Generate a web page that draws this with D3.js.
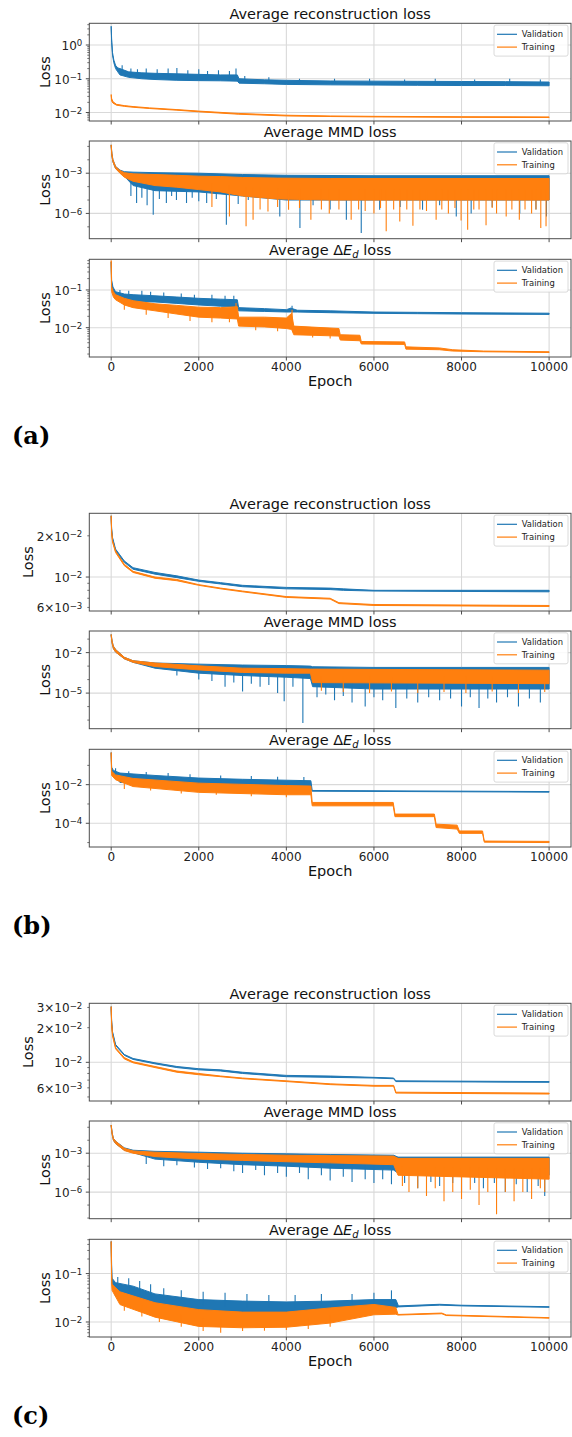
<!DOCTYPE html>
<html><head><meta charset="utf-8">
<script src="https://cdn.jsdelivr.net/npm/d3@7"></script>
<style>body{margin:0;background:#fff}svg{display:block}text{font-family:"DejaVu Sans",sans-serif;fill:#111}</style>
</head><body><svg id="c" width="572" height="1437"></svg>
<script>
// ---------------- data ----------------
const xTicks = [0, 2000, 4000, 6000, 8000, 10000];
const seriesNames = ["Validation", "Training"];
const groupLabels = ["(a)", "(b)", "(c)"];
const panelTitles = ["Average reconstruction loss", "Average MMD loss", "Average \u0394E_d loss"];

// each band: [epoch, lower, upper]; each spike list: [epoch, value]
const aRecVal = [[0,3.2,3.6],[10,1.2,1.5],[30,0.5,0.6],[60,0.3,0.36],[100,0.2,0.25],[150,0.16,0.21],[200,0.13,0.2],[400,0.11,0.16],[700,0.1,0.15],[1000,0.095,0.145],[1500,0.09,0.14],[2000,0.088,0.135],[2500,0.087,0.13],[2880,0.085,0.13],[2920,0.074,0.1],[3500,0.071,0.093],[4000,0.068,0.09],[5000,0.066,0.086],[6000,0.065,0.085],[7000,0.064,0.084],[8000,0.063,0.083],[9000,0.063,0.082],[10000,0.062,0.08]];
const aRecTrn = [[0,0.03,0.034],[10,0.022,0.026],[40,0.019,0.021],[120,0.0165,0.0175],[300,0.0152,0.016],[500,0.0143,0.015],[880,0.0131,0.0137],[1500,0.0117,0.0122],[2000,0.0105,0.011],[2900,0.0089,0.0094],[4000,0.0079,0.0083],[5000,0.0076,0.0079],[6000,0.0074,0.0077],[8000,0.0072,0.0075],[10000,0.0071,0.0074]];
const aRecValSpk = [[250,0.25],[450,0.2],[600,0.19],[800,0.2],[1050,0.19],[1300,0.2],[1500,0.21],[1750,0.18],[2000,0.19],[2200,0.17],[2450,0.18],[2700,0.17],[2850,0.2],[3050,0.12],[3600,0.11],[4300,0.1],[5100,0.1],[5900,0.1],[6700,0.095],[7400,0.1],[8300,0.095],[9100,0.1],[9800,0.095]];

const aMmdVal = [[0,0.1,0.13],[15,0.02,0.03],[40,0.007,0.01],[100,0.0022,0.0032],[200,0.0011,0.0017],[300,0.0006,0.0013],[500,0.00012,0.0012],[1000,0.00005,0.0011],[2000,0.00004,0.001],[3000,0.00002,0.0008],[4000,0.00001,0.0007],[6000,0.00001,0.00065],[8000,0.00001,0.00065],[10000,0.00001,0.00065]];
const aMmdTrn = [[0,0.1,0.13],[15,0.02,0.03],[40,0.007,0.01],[100,0.0022,0.0032],[200,0.001,0.0016],[300,0.0005,0.0011],[500,0.00025,0.0009],[1000,0.00012,0.0008],[1500,0.00009,0.0007],[2000,0.00006,0.0006],[2500,0.00004,0.00056],[3000,0.00002,0.00048],[3800,0.000012,0.00043],[5000,0.00001,0.0004],[10000,0.00001,0.0004]];
const aMmdValSpk = [[450,2e-5],[580,6e-6],[700,1.5e-5],[820,4e-6],[960,8e-7],[1100,1.2e-5],[1260,6e-6],[1380,2e-5],[1490,1e-5],[1720,6e-6],[1850,1.5e-5],[2000,8e-6],[2180,6e-6],[2400,1.2e-5],[2630,1.4e-7],[2900,5e-6],[3130,1e-5],[3470,2.5e-5],[3850,6e-7],[4310,8e-8],[4610,4e-6],[5000,2e-6],[5370,3.4e-7],[5710,3.5e-8],[6130,1.9e-6],[6600,3e-6],[7110,1.9e-6],[7500,4e-6],[7880,6e-7],[8220,1e-6],[8700,3e-6],[9330,1e-6],[9700,2e-6],[9940,6e-7]];
const aMmdTrnSpk = [[2300,3e-6],[2700,6e-7],[3080,1.1e-7],[3240,3.4e-7],[3400,2e-6],[3580,1.4e-6],[3800,3e-6],[4050,1.9e-6],[4300,2.5e-6],[4560,3.4e-7],[4800,2e-6],[4980,1e-6],[5200,2e-6],[5480,3.4e-7],[5650,2e-6],[5800,1.5e-6],[6000,1e-6],[6150,2.5e-6],[6280,4.6e-8],[6450,2e-6],[6590,2.5e-7],[6750,2e-6],[6890,1.2e-7],[7050,2e-6],[7200,1.5e-6],[7420,3.4e-7],[7550,2e-6],[7700,1e-6],[7850,2.5e-6],[7990,3e-7],[8140,6e-8],[8280,2e-6],[8400,2e-6],[8560,1.3e-7],[8700,2.5e-6],[8800,1e-6],[9020,6e-7],[9150,2e-6],[9320,3.4e-7],[9450,2e-6],[9600,1e-6],[9700,2e-6],[9810,8e-8],[9930,1.1e-7]];

const aDeVal = [[0,0.5,0.55],[10,0.13,0.18],[40,0.085,0.12],[100,0.065,0.09],[300,0.05,0.078],[500,0.049,0.075],[1000,0.048,0.07],[1500,0.044,0.065],[2000,0.04,0.06],[2500,0.037,0.057],[2880,0.036,0.055],[2910,0.028,0.034],[3500,0.027,0.032],[4000,0.026,0.03],[4100,0.026,0.033],[4250,0.026,0.029],[5000,0.025,0.028],[6000,0.024,0.026],[7000,0.0235,0.0255],[8000,0.023,0.025],[10000,0.0225,0.0242]];
const aDeTrn = [[0,0.5,0.6],[10,0.09,0.12],[50,0.065,0.09],[100,0.055,0.075],[300,0.04,0.06],[500,0.034,0.052],[1000,0.028,0.043],[1500,0.023,0.039],[2000,0.019,0.035],[2500,0.018,0.034],[2880,0.017,0.036],[2910,0.011,0.019],[3500,0.0105,0.019],[4000,0.0095,0.018],[4120,0.009,0.024],[4170,0.0065,0.011],[5200,0.006,0.0095],[5230,0.0047,0.0065],[5680,0.0045,0.0063],[5710,0.0037,0.0043],[6700,0.0036,0.0042],[6730,0.0027,0.0031],[7500,0.0026,0.0029],[7800,0.0024,0.0026],[8500,0.0023,0.0024],[10000,0.0022,0.0023]];
const aDeValSpk = [[200,0.1],[400,0.095],[700,0.095],[900,0.09],[1200,0.085],[1600,0.08],[1900,0.075],[2300,0.075],[2600,0.07],[2800,0.07],[4130,0.038]];
const aDeTrnSpk = [[300,0.03],[800,0.022],[1300,0.018],[1800,0.015],[2300,0.014],[2700,0.014],[2850,0.045],[3300,0.0085],[3800,0.008],[4130,0.03],[4600,0.0055],[5000,0.0052]];

const bRecVal = [[0,0.027,0.028],[10,0.022,0.0225],[30,0.019,0.0195],[100,0.0155,0.016],[300,0.0128,0.0131],[500,0.0114,0.0117],[1000,0.0105,0.0108],[1500,0.0099,0.0102],[2000,0.0093,0.0095],[2500,0.0089,0.0091],[3000,0.0085,0.0087],[4000,0.0082,0.0084],[5000,0.0081,0.0083],[5300,0.008,0.0082],[6000,0.0079,0.008],[10000,0.0078,0.008]];
const bRecTrn = [[0,0.027,0.028],[10,0.021,0.0215],[30,0.018,0.0185],[100,0.0151,0.0155],[300,0.0121,0.0124],[500,0.0108,0.011],[1000,0.0098,0.01],[1500,0.0094,0.0096],[2000,0.0087,0.0088],[2500,0.0082,0.0083],[3000,0.0078,0.0079],[4000,0.0071,0.0072],[5000,0.0069,0.007],[5200,0.0064,0.0065],[6000,0.0062,0.0063],[10000,0.0061,0.0062]];

const bMmdVal = [[0,0.18,0.22],[20,0.05,0.07],[50,0.02,0.03],[100,0.011,0.017],[300,0.0035,0.0045],[500,0.0019,0.0025],[1000,0.0007,0.0017],[2000,0.0003,0.0014],[3000,0.0002,0.0012],[4000,0.00015,0.0011],[4550,0.00012,0.001],[4600,0.00003,0.0009],[6000,0.00002,0.0008],[8000,0.00002,0.0008],[10000,0.00002,0.0008]];
const bMmdTrn = [[0,0.18,0.22],[20,0.05,0.07],[50,0.02,0.03],[100,0.011,0.017],[300,0.0035,0.0045],[500,0.0019,0.0025],[1000,0.00093,0.0017],[2000,0.00052,0.00105],[3000,0.00034,0.0007],[4000,0.0003,0.00065],[4550,0.0003,0.0006],[4600,0.00006,0.0006],[10000,0.00005,0.0005]];
const bMmdValSpk = [[1500,2e-4],[2000,1e-4],[2300,8e-5],[2600,3e-5],[2800,6e-5],[3000,1.3e-5],[3200,5e-5],[3400,3e-5],[3600,4e-5],[3800,1e-5],[3950,2.5e-6],[4150,3e-5],[4377,6e-8],[4700,5e-6],[4900,8e-6],[5100,3e-6],[5300,6e-6],[5500,2e-6],[5800,1e-6],[6000,5e-6],[6200,3e-6],[6500,8e-7],[6750,4e-6],[7000,2e-6],[7250,5e-6],[7500,3e-6],[7750,4e-6],[8000,1e-6],[8200,5e-6],[8400,8e-7],[8600,4e-6],[8800,2e-6],[9050,5e-6],[9300,1e-6],[9550,4e-6],[9800,2e-6]];
const bMmdTrnSpk = [[4800,1.5e-5],[5300,1.2e-5],[5900,1e-5],[6400,1.3e-5],[7000,1e-5],[7600,1.2e-5],[8100,1e-5],[8700,1.3e-5],[9300,1e-5],[9900,1.2e-5]];

const bDeVal = [[0,0.43,0.46],[10,0.06,0.08],[50,0.035,0.055],[200,0.013,0.04],[1000,0.011,0.03],[2000,0.009,0.022],[3000,0.008,0.019],[4000,0.007,0.017],[4560,0.007,0.016],[4590,0.0046,0.005],[10000,0.0041,0.0044]];
const bDeTrn = [[0,0.43,0.46],[10,0.03,0.05],[100,0.018,0.032],[500,0.008,0.021],[2000,0.004,0.012],[4000,0.003,0.009],[4560,0.003,0.0085],[4590,0.0008,0.0012],[6440,0.0008,0.0012],[6480,0.00022,0.0003],[7380,0.00022,0.0003],[7420,0.00006,0.00009],[7900,0.00005,0.00008],[7950,0.00003,0.00004],[8480,0.00003,0.00004],[8520,0.0000105,0.000012],[10000,0.00001,0.0000115]];
const bDeValSpk = [[100,0.07],[400,0.05],[800,0.045],[1300,0.04],[1800,0.035],[2500,0.03],[3200,0.028],[3800,0.026],[4400,0.025]];
const bDeTrnSpk = [[300,0.006],[900,0.005],[1600,0.0035],[2400,0.003],[3200,0.0025],[4000,0.0022]];

const cRecVal = [[0,0.029,0.0305],[10,0.022,0.023],[30,0.018,0.0185],[100,0.014,0.0143],[300,0.0115,0.0117],[500,0.0106,0.0108],[1000,0.0097,0.0099],[1500,0.009,0.0092],[2000,0.0086,0.0088],[2500,0.0084,0.0086],[3000,0.008,0.0082],[4000,0.0075,0.0077],[5000,0.0074,0.0076],[6000,0.0073,0.0074],[6450,0.0072,0.0073],[6500,0.0068,0.0069],[10000,0.0067,0.0068]];
const cRecTrn = [[0,0.029,0.0305],[10,0.021,0.022],[30,0.017,0.0175],[100,0.0131,0.0134],[300,0.0107,0.011],[500,0.0099,0.0101],[1000,0.009,0.0092],[1500,0.0082,0.0084],[2000,0.0078,0.008],[2500,0.0075,0.0076],[3000,0.0072,0.0073],[4000,0.0068,0.0069],[5000,0.0064,0.0065],[6000,0.0062,0.0063],[6450,0.0062,0.0063],[6500,0.0054,0.0055],[10000,0.0053,0.0054]];

const cMmdVal = [[0,0.12,0.15],[20,0.03,0.04],[50,0.01,0.014],[100,0.0055,0.0085],[300,0.0017,0.0026],[500,0.0011,0.0017],[1000,0.00035,0.0014],[2000,0.0002,0.0012],[3000,0.00013,0.001],[4000,0.0001,0.0009],[5000,0.00007,0.0008],[6450,0.00005,0.0007],[6550,0.00003,0.0005],[10000,0.00002,0.0005]];
const cMmdTrn = [[0,0.12,0.15],[20,0.03,0.04],[50,0.01,0.014],[100,0.0055,0.0085],[300,0.0016,0.0024],[500,0.001,0.0015],[1000,0.00055,0.0012],[2000,0.00035,0.00095],[3000,0.00028,0.0008],[4000,0.00022,0.0007],[5000,0.00018,0.00065],[6450,0.00013,0.0006],[6550,0.00002,0.0004],[10000,0.00001,0.0004]];
const cMmdValSpk = [[800,1.5e-4],[1200,1e-4],[1500,1.2e-4],[1900,8e-5],[2200,6e-5],[2500,7e-5],[2800,4e-5],[3000,3e-5],[3300,5e-5],[3500,2e-5],[3800,3e-5],[4000,1.5e-5],[4300,3e-5],[4500,1e-5],[4800,2e-5],[5000,8e-6],[5300,1.5e-5],[5500,6e-6],[5800,1e-5],[6000,5e-6],[6200,1e-5],[6400,4e-6],[6700,5e-6],[7000,2e-6],[7300,6e-6],[7500,3e-6],[7800,5e-6],[8000,1e-6],[8300,5e-6],[8500,2e-6],[8750,5e-6],[9000,1e-6],[9250,4e-6],[9500,1e-6],[9750,3e-6],[9900,5e-7]];
const cMmdTrnSpk = [[6650,3e-6],[6800,1e-6],[7000,2e-6],[7200,5e-7],[7400,2e-6],[7600,2e-7],[7800,1e-6],[8000,3e-7],[8200,1.5e-6],[8400,1e-7],[8600,1e-6],[8800,2e-8],[9000,1e-6],[9200,2e-7],[9400,1e-6],[9600,3e-7],[9800,2e-6],[9900,1e-6]];

const cDeVal = [[0,0.44,0.46],[10,0.1,0.15],[20,0.06,0.08],[100,0.034,0.065],[500,0.028,0.055],[1000,0.023,0.038],[2000,0.0166,0.029],[3000,0.0141,0.027],[4000,0.0155,0.026],[5000,0.0165,0.027],[6000,0.0194,0.029],[6500,0.02,0.029],[6560,0.0205,0.0215],[7500,0.0223,0.0232],[8000,0.0215,0.0222],[10000,0.0201,0.0207]];
const cDeTrn = [[0,0.44,0.46],[10,0.06,0.09],[20,0.045,0.06],[200,0.0229,0.042],[1000,0.0126,0.025],[2000,0.0081,0.018],[3000,0.0076,0.016],[4000,0.0078,0.016],[5000,0.0095,0.0195],[6000,0.0141,0.023],[6500,0.0145,0.02],[6550,0.0139,0.0143],[7550,0.0148,0.0153],[7650,0.0136,0.014],[10000,0.012,0.0123]];
const cDeValSpk = [[150,0.085],[400,0.08],[650,0.07],[900,0.06],[1200,0.05],[1600,0.045],[2100,0.042],[2600,0.04],[3100,0.038],[3600,0.036],[4200,0.036],[4800,0.038],[5500,0.038],[6000,0.04],[6400,0.045]];
const cDeTrnSpk = [[300,0.017],[700,0.013],[1100,0.01],[1600,0.008],[2100,0.0065],[2500,0.006],[3000,0.0065],[3500,0.0066],[4000,0.0068],[4500,0.0072],[5000,0.008]];

// ---------------- layout ----------------
const colors = ["#1f77b4", "#ff7f0e"];
const X0 = 89.3, X1 = 571, PH = 97.7;
const panelTops = [23.3, 141, 259.3];
const groupOff = [0, 490, 980];

const panels = [
  {g:0,i:0,dom:[0.0056,4.4],major:[1,0.1,0.01],minor:"sub",minorLab:[],val:aRecVal,trn:aRecTrn,vs:aRecValSpk,ts:[]},
  {g:0,i:1,dom:[1.3e-8,0.253],major:[1e-3,1e-6],minor:"dec",minorLab:[],val:aMmdVal,trn:aMmdTrn,vs:aMmdValSpk,ts:aMmdTrnSpk},
  {g:0,i:2,dom:[0.00167,0.65],major:[0.1,0.01],minor:"sub",minorLab:[],val:aDeVal,trn:aDeTrn,vs:aDeValSpk,ts:aDeTrnSpk},
  {g:1,i:0,dom:[0.00565,0.0292],major:[0.01],minor:"sub",minorLab:[0.02,0.006],val:bRecVal,trn:bRecTrn,vs:[],ts:[]},
  {g:1,i:1,dom:[2.3e-8,0.4],major:[1e-2,1e-5],minor:"dec",minorLab:[],val:bMmdVal,trn:bMmdTrn,vs:bMmdValSpk,ts:bMmdTrnSpk},
  {g:1,i:2,dom:[5.9e-6,0.68],major:[1e-2,1e-4],minor:"dec",minorLab:[],val:bDeVal,trn:bDeTrn,vs:bDeValSpk,ts:bDeTrnSpk},
  {g:2,i:0,dom:[0.00461,0.0326],major:[0.01],minor:"sub",minorLab:[0.03,0.02,0.006],val:cRecVal,trn:cRecTrn,vs:[],ts:[]},
  {g:2,i:1,dom:[8.9e-9,0.305],major:[1e-3,1e-6],minor:"dec",minorLab:[],val:cMmdVal,trn:cMmdTrn,vs:cMmdValSpk,ts:cMmdTrnSpk},
  {g:2,i:2,dom:[0.0049,0.51],major:[0.1,0.01],minor:"sub",minorLab:[],val:cDeVal,trn:cDeTrn,vs:cDeValSpk,ts:cDeTrnSpk}
];

const svg = d3.select("#c");
const x = d3.scaleLinear().domain([-500, 10500]).range([X0, X1]);
const SPINE = "#4d4d4d", GRID = "#d9d9d9";
const minus = s => String(s).replace("-", "\u2212");

function tickText(sel, v) {
  const e = Math.floor(Math.log10(v) + 1e-9);
  const m = Math.round(v / Math.pow(10, e));
  sel.append("tspan").text(m === 1 ? "10" : m + "\u00d710");
  sel.append("tspan").attr("dy", "-0.45em").attr("font-size", "8.6px").text(minus(e));
}

function bandAt(band, ep) {
  let k = d3.bisector(d => d[0]).right(band, ep) - 1;
  k = Math.max(0, Math.min(band.length - 2, k));
  const a = band[k], b = band[k + 1];
  const t = Math.max(0, Math.min(1, (ep - a[0]) / (b[0] - a[0])));
  const la = Math.log10(Math.sqrt(a[1] * a[2])), lb = Math.log10(Math.sqrt(b[1] * b[2]));
  return Math.pow(10, la + (lb - la) * t);
}

panels.forEach((p, idx) => {
  const top = groupOff[p.g] + panelTops[p.i], bot = top + PH;
  const y = d3.scaleLog().domain(p.dom).range([bot, top]);
  const g = svg.append("g");
  const cid = "clip" + idx;
  g.append("clipPath").attr("id", cid).append("rect").attr("x", X0).attr("y", top).attr("width", X1 - X0).attr("height", PH);

  // grid
  g.selectAll(".gx").data(xTicks).join("line").attr("x1", d => x(d)).attr("x2", d => x(d)).attr("y1", top).attr("y2", bot).attr("stroke", GRID).attr("stroke-width", 1.1);
  g.selectAll(".gy").data(p.major).join("line").attr("x1", X0).attr("x2", X1).attr("y1", d => y(d)).attr("y2", d => y(d)).attr("stroke", GRID).attr("stroke-width", 1.1);

  const area = d3.area().x(d => x(d[0])).y0(d => y(d[1])).y1(d => y(d[2]));
  const dg = g.append("g").attr("clip-path", `url(#${cid})`);
  [[p.val, p.vs], [p.trn, p.ts]].forEach(([band, spk], si) => {
    dg.append("path").attr("d", area(band)).attr("fill", colors[si]).attr("stroke", colors[si]).attr("stroke-width", 1).attr("stroke-linejoin", "round");
    dg.selectAll(null).data(spk).join("line")
      .attr("x1", d => x(d[0])).attr("x2", d => x(d[0]))
      .attr("y1", d => y(bandAt(band, d[0]))).attr("y2", d => y(d[1]))
      .attr("stroke", colors[si]).attr("stroke-width", 1.1);
  });

  // spines
  g.append("rect").attr("x", X0).attr("y", top).attr("width", X1 - X0).attr("height", PH).attr("fill", "none").attr("stroke", SPINE).attr("stroke-width", 1);
  // x ticks
  g.selectAll(".xt").data(xTicks).join("line").attr("x1", d => x(d)).attr("x2", d => x(d)).attr("y1", bot).attr("y2", bot + 3.5).attr("stroke", SPINE);
  // y ticks
  const [lo, hi] = p.dom;
  const minors = [];
  for (let e = Math.floor(Math.log10(lo)); e <= Math.ceil(Math.log10(hi)); e++) {
    if (p.minor === "sub") {
      for (let m = 2; m <= 9; m++) { const v = m * Math.pow(10, e); if (v >= lo && v <= hi) minors.push(v); }
    } else {
      const v = Math.pow(10, e);
      if (v >= lo && v <= hi && !p.major.some(mj => Math.abs(Math.log10(mj) - e) < 1e-6)) minors.push(v);
    }
  }
  g.selectAll(".ym").data(minors).join("line").attr("x1", X0 - 2).attr("x2", X0).attr("y1", d => y(d)).attr("y2", d => y(d)).attr("stroke", SPINE).attr("stroke-width", 0.8);
  g.selectAll(".yM").data(p.major).join("line").attr("x1", X0 - 3.5).attr("x2", X0).attr("y1", d => y(d)).attr("y2", d => y(d)).attr("stroke", SPINE);
  const labs = g.append("g");
  p.major.concat(p.minorLab).forEach(v => {
    const t = labs.append("text").attr("x", X0 - 7).attr("y", y(v) + 5).attr("text-anchor", "end").attr("font-size", "12px").style("fill", "#222");
    tickText(t, v);
  });
  const bb = labs.node().getBBox();
  g.append("text").attr("transform", `translate(${bb.x - 4},${(top + bot) / 2}) rotate(-90)`).attr("text-anchor", "middle").attr("font-size", "14.5px").text("Loss");

  // title
  const tt = g.append("text").attr("x", (X0 + X1) / 2).attr("y", top - 4.5).attr("text-anchor", "middle").attr("font-size", "14.5px");
  const title = panelTitles[p.i];
  if (title.includes("_d")) {
    tt.append("tspan").text("Average \u0394");
    tt.append("tspan").attr("font-style", "italic").text("E");
    tt.append("tspan").attr("font-style", "italic").attr("font-size", "10px").attr("dy", "3").text("d");
    tt.append("tspan").attr("dy", "-3").text(" loss");
  } else tt.text(title);

  // legend
  const lg = g.append("g");
  lg.append("rect").attr("x", 494).attr("y", top + 1.8).attr("width", 74).attr("height", 31).attr("rx", 2).attr("fill", "#fff").attr("fill-opacity", 0.85).attr("stroke", "#d0d0d0").attr("stroke-width", 0.8);
  seriesNames.forEach((n, k) => {
    const yy = top + 11 + k * 12.8;
    lg.append("line").attr("x1", 497).attr("x2", 517).attr("y1", yy).attr("y2", yy).attr("stroke", colors[k]).attr("stroke-width", 1.2);
    lg.append("text").attr("x", 521.7).attr("y", yy + 3).attr("font-size", "8.4px").style("fill", "#222").text(n);
  });

  // bottom panel x labels
  if (p.i === 2) {
    g.selectAll(".xl").data(xTicks).join("text").attr("x", d => x(d)).attr("y", bot + 14).attr("text-anchor", "middle").attr("font-size", "12px").style("fill", "#222").text(d => d);
    g.append("text").attr("x", (X0 + X1) / 2).attr("y", bot + 29).attr("text-anchor", "middle").attr("font-size", "14.5px").text("Epoch");
  }
});

groupLabels.forEach((l, k) => {
  svg.append("text").attr("x", 12).attr("y", 444 + groupOff[k])
    .style("font-family", "'DejaVu Serif', 'Liberation Serif', serif").style("font-weight", "bold").style("font-size", "24px").style("fill", "#000").text(l);
});
</script></body></html>
